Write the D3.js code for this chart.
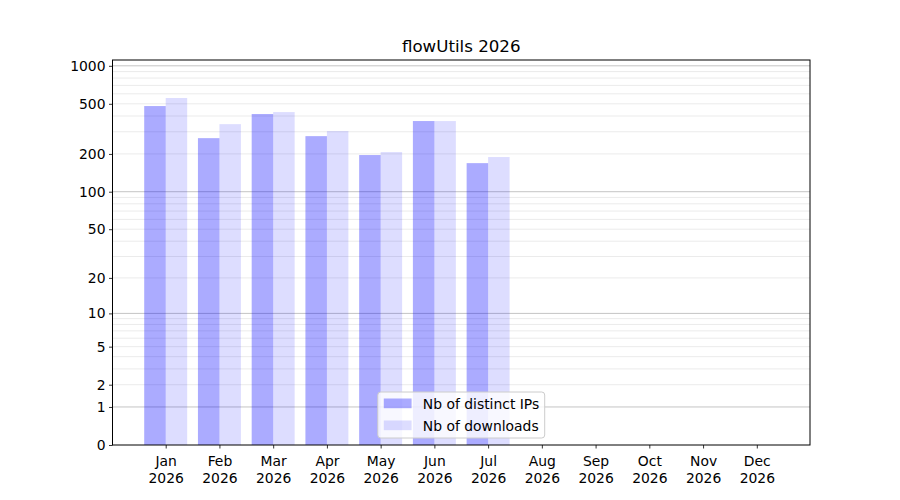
<!DOCTYPE html>
<html>
<head>
<meta charset="utf-8">
<title>flowUtils 2026</title>
<script src="https://cdn.jsdelivr.net/npm/d3@7"></script>
<style>
  body { margin: 0; background: #fff; }
  text { font-family: "DejaVu Sans", sans-serif; fill: #000; }
</style>
</head>
<body>
<div id="chart"></div>
<script>
// data
var months = ["Jan", "Feb", "Mar", "Apr", "May", "Jun", "Jul", "Aug", "Sep", "Oct", "Nov", "Dec"];
var year = "2026";
var distinctIPs = [480, 267, 415, 277, 196, 365, 169, 0, 0, 0, 0, 0];
var downloads = [556, 345, 430, 304, 207, 365, 189, 0, 0, 0, 0, 0];
var yTicks = [0, 1, 2, 5, 10, 20, 50, 100, 200, 500, 1000];
var majorGrid = [1, 10, 100, 1000];
var minorGrid = [2, 3, 4, 5, 6, 7, 8, 9, 20, 30, 40, 50, 60, 70, 80, 90, 200, 300, 400, 500, 600, 700, 800, 900];
var seriesNames = ["Nb of distinct IPs", "Nb of downloads"];

var width = 900, height = 500;
// plot area (window.top is reserved, so use plot* names)
var plotLeft = 112.5, plotRight = 810, plotTop = 60, plotBottom = 445;
var fontSize = 13.9;
var barWidth = 0.4;

var svg = d3.select("#chart").append("svg")
  .attr("width", width).attr("height", height);

var x = d3.scaleLinear().domain([-0.99, 11.99]).range([plotLeft, plotRight]);
var y = d3.scaleSymlog().constant(1).domain([0, d3.max(downloads) * 2]).range([plotBottom, plotTop]);

// grid
svg.append("g").selectAll("line").data(minorGrid).enter().append("line")
  .attr("x1", plotLeft).attr("x2", plotRight)
  .attr("y1", function(d) { return y(d); }).attr("y2", function(d) { return y(d); })
  .attr("stroke", "#ebebeb").attr("stroke-width", 1);
svg.append("g").selectAll("line").data(majorGrid).enter().append("line")
  .attr("x1", plotLeft).attr("x2", plotRight)
  .attr("y1", function(d) { return y(d); }).attr("y2", function(d) { return y(d); })
  .attr("stroke", "#c4c4c4").attr("stroke-width", 1);

// bars
var series = [
  { values: distinctIPs, offset: -barWidth, opacity: 0.33 },
  { values: downloads, offset: 0, opacity: 0.135 }
];
series.forEach(function(s) {
  svg.append("g").selectAll("rect").data(s.values).enter().append("rect")
    .attr("x", function(d, i) { return x(i + s.offset); })
    .attr("width", x(barWidth) - x(0))
    .attr("y", function(d) { return y(d); })
    .attr("height", function(d) { return plotBottom - y(d); })
    .attr("fill", "blue").attr("fill-opacity", s.opacity);
});

// y axis
var yAxis = svg.append("g").attr("transform", "translate(" + plotLeft + ",0)")
  .call(d3.axisLeft(y).tickValues(yTicks).tickFormat(d3.format("d")).tickSize(3.5).tickPadding(3.5));
yAxis.select(".domain").remove();
yAxis.selectAll("text").style("font-size", fontSize + "px").style("font-family", "DejaVu Sans");
yAxis.selectAll("line").attr("stroke-width", 0.8);

// x axis
var xAxis = svg.append("g").attr("transform", "translate(0," + plotBottom + ")")
  .call(d3.axisBottom(x).tickValues(d3.range(months.length)).tickFormat("").tickSize(3.5));
xAxis.select(".domain").remove();
xAxis.selectAll("line").attr("stroke-width", 0.8);
xAxis.selectAll(".tick").append("text")
  .attr("text-anchor", "middle").attr("fill", "#000")
  .style("font-size", fontSize + "px").style("font-family", "DejaVu Sans")
  .each(function(d) {
    var t = d3.select(this);
    t.append("tspan").attr("x", 0).attr("y", 21).text(months[d]);
    t.append("tspan").attr("x", 0).attr("y", 37.5).text(year);
  });

// frame
svg.append("rect").attr("x", plotLeft).attr("y", plotTop)
  .attr("width", plotRight - plotLeft).attr("height", plotBottom - plotTop)
  .attr("fill", "none").attr("stroke", "#000").attr("stroke-width", 1);

// title
svg.append("text").attr("x", (plotLeft + plotRight) / 2).attr("y", 51.7)
  .attr("text-anchor", "middle").style("font-size", "16.67px")
  .text("flowUtils " + year);

// legend, lower center
var legend = svg.append("g");
var box = legend.append("rect").attr("rx", 3).attr("ry", 3)
  .attr("fill", "#fff").attr("fill-opacity", 0.8)
  .attr("stroke", "#cccccc").attr("stroke-width", 1);
var texts = [];
seriesNames.forEach(function(name, i) {
  legend.append("rect").attr("x", 384).attr("width", 27.8)
    .attr("y", 398.5 + i * 22).attr("height", 9.7)
    .attr("fill", "blue").attr("fill-opacity", series[i].opacity);
  texts.push(legend.append("text").attr("x", 423).attr("y", 408.5 + i * 22)
    .style("font-size", fontSize + "px").text(name));
});
var textW = d3.max(texts, function(t) { return t.node().getComputedTextLength(); });
var boxW = 423 + textW + 5.5 - 378;
var boxX = (plotLeft + plotRight) / 2 - boxW / 2;
legend.attr("transform", "translate(" + (boxX - 378) + ",0)");
box.attr("x", 378).attr("y", 392).attr("width", boxW).attr("height", 46);
</script>
</body>
</html>
